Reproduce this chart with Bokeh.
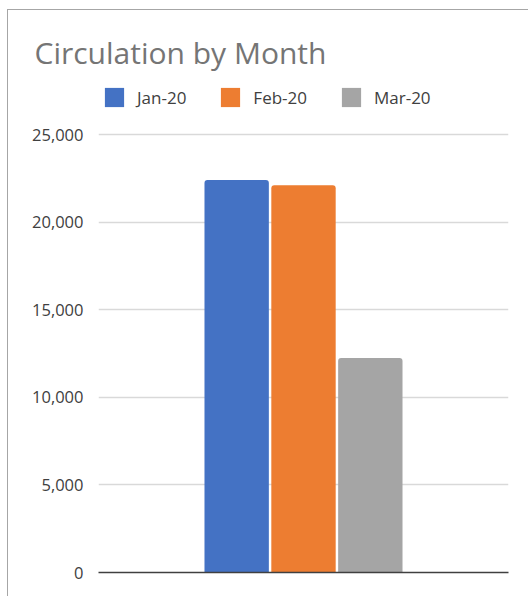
from bokeh.plotting import figure
from bokeh.models import (FactorRange, Range1d, FixedTicker, NumeralTickFormatter,
                          Legend, LegendItem, ColumnDataSource)
from bokeh.transform import dodge
from bokeh.embed import file_html
from bokeh.resources import INLINE

category = ["Circulation"]
months = ["Jan-20", "Feb-20", "Mar-20"]
counts = [22400, 22100, 12250]
colors = ["#4472C4", "#ED7D31", "#A5A5A5"]
y_ticks = [0, 5000, 10000, 15000, 20000, 25000]
title_text = "Circulation by Month"

FONT = "Open Sans"

# layout (pixels)
BORDER_TOP = 70
FRAME_H = 492          # frame height: includes room for the legend above the 25,000 line
AXIS_H = 438           # pixel height of the 0..25,000 axis span
y_end = y_ticks[-1] * FRAME_H / AXIS_H

p = figure(width=521, height=BORDER_TOP + FRAME_H + 25,
           x_range=FactorRange(factors=category),
           y_range=Range1d(0, y_end),
           output_backend="svg", toolbar_location=None,
           min_border_left=90, min_border_right=21,
           min_border_top=BORDER_TOP, min_border_bottom=25)

offsets = [-0.163, 0.0, 0.163]
renderers = []
for m, c, col, off in zip(months, counts, colors, offsets):
    src = ColumnDataSource(dict(x=category, top=[c]))
    r = p.vbar(x=dodge("x", off, range=p.x_range), top="top", bottom=0,
               width=0.157, source=src, fill_color=col, line_color=None,
               border_radius=(3, 3, 0, 0))
    renderers.append((m, r))

p.outline_line_color = None
p.background_fill_color = "white"
p.border_fill_color = "white"

p.xgrid.grid_line_color = None
p.ygrid.grid_line_color = "#d9d9d9"
p.ygrid.grid_line_width = 1.5

p.yaxis.ticker = FixedTicker(ticks=y_ticks)
p.yaxis.formatter = NumeralTickFormatter(format="0,0")
p.yaxis.axis_line_color = None
p.yaxis.major_tick_line_color = None
p.yaxis.minor_tick_line_color = None
p.yaxis.major_label_standoff = 9
p.yaxis.major_label_text_font = FONT
p.yaxis.major_label_text_font_size = "16.5px"
p.yaxis.major_label_text_color = "#404040"

p.xaxis.major_label_text_color = None
p.xaxis.major_tick_line_color = None
p.xaxis.minor_tick_line_color = None
p.xaxis.axis_line_color = "#404040"
p.xaxis.axis_line_width = 1.5

legend = Legend(items=[LegendItem(label=m, renderers=[r]) for m, r in renderers],
                orientation="horizontal", location=(4, 463), margin=0,
                glyph_width=24, glyph_height=24, label_standoff=11, spacing=32,
                padding=0, border_line_color=None, background_fill_alpha=0,
                label_text_font=FONT, label_text_font_size="17px",
                label_text_color="#404040")
p.add_layout(legend, "center")

p.title.text = title_text
p.title.align = "left"
p.title.offset = -64
p.title.standoff = 15
p.title.text_font = FONT
p.title.text_font_size = "30px"
p.title.text_font_style = "normal"
p.title.text_color = "#757575"

p.styles = {"border-left": "1px solid #a6a6a6", "border-top": "1px solid #a6a6a6",
            "margin-left": "7px", "margin-top": "9px"}

open("out.html", "w").write(file_html(p, INLINE))
